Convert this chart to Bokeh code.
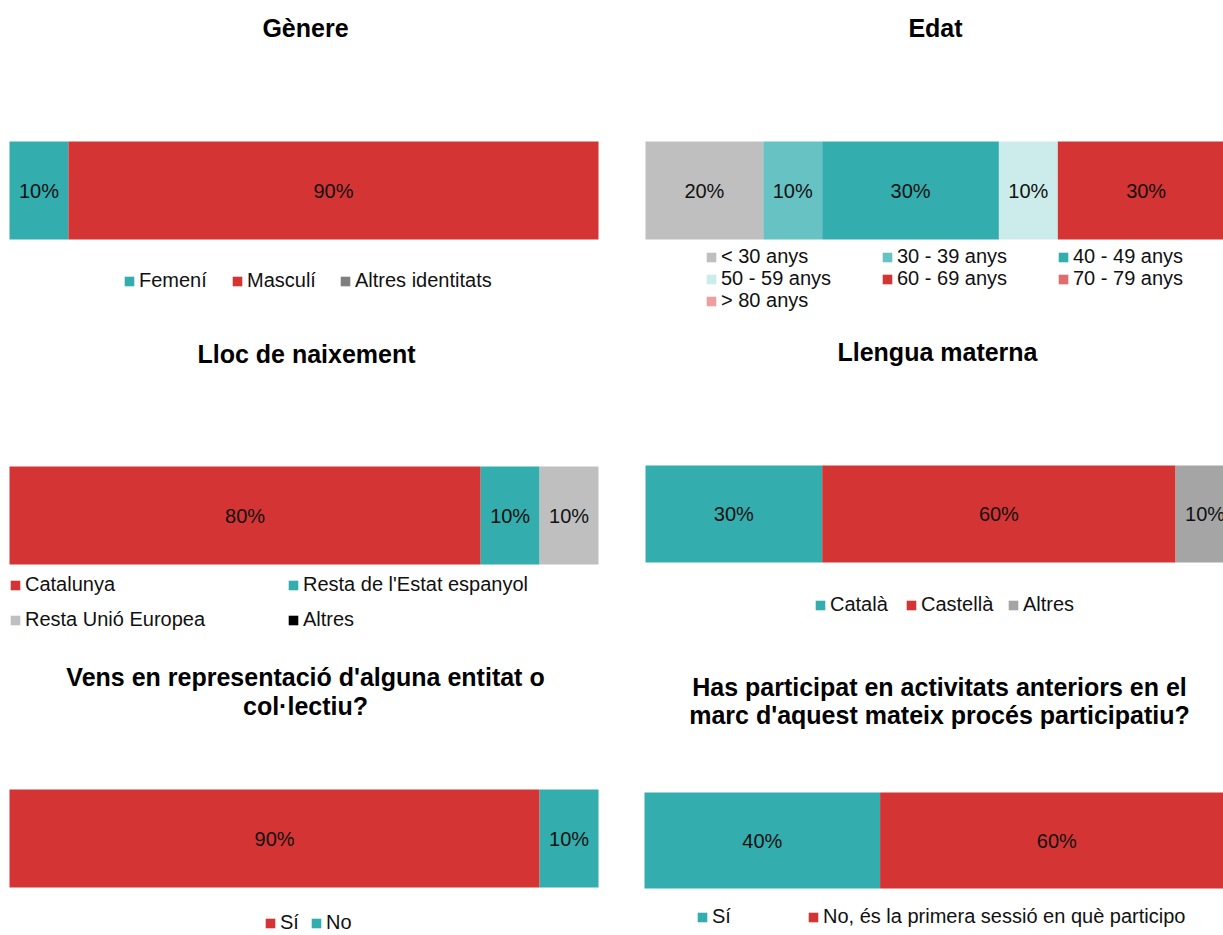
from bokeh.plotting import figure
from bokeh.models import Range1d, Label, LabelSet, ColumnDataSource, Legend, LegendItem
from bokeh.layouts import row, column
from bokeh.core.properties import value
from bokeh.embed import file_html
from bokeh.resources import INLINE

FONT = "Liberation Sans"

# ---- data ----
genere_cats = ["Femení", "Masculí", "Altres identitats"]
genere_vals = [10, 90, 0]

edat_cats = ["< 30 anys", "30 - 39 anys", "40 - 49 anys", "50 - 59 anys",
             "60 - 69 anys", "70 - 79 anys", "> 80 anys"]
edat_vals = [20, 10, 30, 10, 30, 0, 0]

lloc_cats = ["Catalunya", "Resta de l'Estat espanyol", "Resta Unió Europea", "Altres"]
lloc_vals = [80, 10, 10, 0]

llengua_cats = ["Català", "Castellà", "Altres"]
llengua_vals = [30, 60, 10]

entitat_cats = ["Sí", "No"]
entitat_vals = [90, 10]

particip_cats = ["Sí", "No, és la primera sessió en què participo"]
particip_vals = [40, 60]

# ---- styles ----
TEAL = "#33ADAE"
RED = "#D53434"
LGRAY = "#BFBFBF"
MGRAY = "#A5A5A5"
DGRAY = "#7F7F7F"
TEAL2 = "#66C2C3"
TEAL3 = "#CCECEB"
RED2 = "#E26B6B"
RED3 = "#EE9E9E"

SCALE = 5.89  # px per percent


def panel(width, height, cats, vals, colors, titles, title_x, title_ys,
          bar_x0, bar_top, bar_h, legend_pos):
    xs = -bar_x0 / SCALE
    yend = 0.5 + bar_top / bar_h
    p = figure(width=width, height=height, output_backend="svg", toolbar_location=None,
               x_range=Range1d(xs, xs + width / SCALE),
               y_range=Range1d(yend - height / bar_h, yend),
               x_axis_location=None, y_axis_location=None, min_border=0)
    p.grid.visible = False
    p.outline_line_color = None
    p.background_fill_color = "white"
    p.border_fill_color = "white"

    lefts, rights = [], []
    acc = 0
    for v in vals:
        lefts.append(acc)
        acc += v
        rights.append(acc)

    rends = []
    for c, l, r, col in zip(cats, lefts, rights, colors):
        rr = p.hbar(y=[0], left=[l], right=[r], height=1, fill_color=col, line_color=None)
        rends.append(rr)

    mids = [(l + r) / 2 for l, r, v in zip(lefts, rights, vals) if v > 0]
    txt = [f"{v}%" for v in vals if v > 0]
    src = ColumnDataSource(dict(x=mids, y=[0] * len(mids), t=txt))
    p.add_layout(LabelSet(x="x", y="y", text="t", source=src, text_align="center",
                          text_baseline="middle", text_font=value(FONT),
                          text_font_size=value("20px"), text_color="#111111"))

    for t, ty in zip(titles, title_ys):
        p.add_layout(Label(x=title_x, y=ty, x_units="screen", y_units="screen", text=t,
                           text_align="center", text_baseline="middle", text_font=FONT,
                           text_font_size="25px", text_font_style="bold",
                           text_color="#000000"))

    for c, rr, (lx, ly) in zip(cats, rends, legend_pos):
        lg = Legend(items=[LegendItem(label=c, renderers=[rr])], location=(lx - 1, ly - 11),
                    orientation="horizontal", glyph_width=12, glyph_height=12,
                    label_height=20, label_standoff=4, padding=0, margin=0, spacing=0,
                    border_line_color=None, background_fill_alpha=0,
                    label_text_font=FONT, label_text_font_size="20px",
                    label_text_color="#111111")
        p.add_layout(lg, "center")
    return p


LW, RW = 622, 601
H1, H2, H3 = 330, 318, 287

p1 = panel(LW, H1, genere_cats, genere_vals, [TEAL, RED, DGRAY], ["Gènere"], 305, [303],
           9, 141, 98, [(124, 49), (232, 49), (340, 49)])

p2 = panel(RW, H1, edat_cats, edat_vals, [LGRAY, TEAL2, TEAL, TEAL3, RED, RED2, RED3],
           ["Edat"], 313, [303], 23, 141, 98,
           [(84, 73), (260, 73), (436, 73), (84, 51), (260, 51), (436, 51), (84, 29)])

p3 = panel(LW, H2, lloc_cats, lloc_vals, [RED, TEAL, LGRAY, "#000000"],
           ["Lloc de naixement"], 306, [295], 9, 136, 98,
           [(10, 63), (288, 63), (10, 28), (288, 28)])

p4 = panel(RW, H2, llengua_cats, llengua_vals, [TEAL, RED, MGRAY],
           ["Llengua materna"], 315, [297], 23, 135, 97,
           [(193, 43), (284, 43), (386, 43)])

p5 = panel(LW, H3, entitat_cats, entitat_vals, [RED, TEAL],
           ["Vens en representació d'alguna entitat o", "col·lectiu?"], 305, [259, 230],
           9, 141, 98, [(265, 12), (311, 12)])

p6 = panel(RW, H3, particip_cats, particip_vals, [TEAL, RED],
           ["Has participat en activitats anteriors en el",
            "marc d'aquest mateix procés participatiu?"], 317, [249, 221],
           22, 144, 96, [(75, 18), (186, 18)])

layout = column(row(p1, p2), row(p3, p4), row(p5, p6))
open("out.html", "w").write(file_html(layout, INLINE))
